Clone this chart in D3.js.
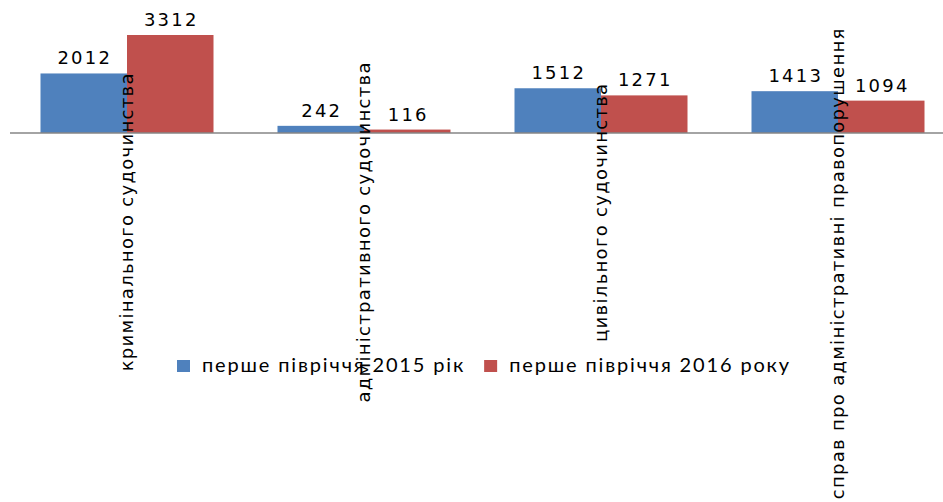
<!DOCTYPE html>
<html>
<head>
<meta charset="utf-8">
<script src="https://cdn.jsdelivr.net/npm/d3@7"></script>
<style>
  body { margin: 0; background: #fff; }
  svg { display: block; }
</style>
</head>
<body>
<svg id="chart" width="943" height="502"></svg>
<script>
const categories = [
  "кримінального судочинства",
  "адміністративного судочинства",
  "цивільного судочинства",
  "справ про адміністративні правопорушення"
];
const seriesNames = ["перше півріччя 2015 рік", "перше півріччя 2016 року"];
const values2015 = [2012, 242, 1512, 1413];
const values2016 = [3312, 116, 1271, 1094];
const colors = ["#4F81BD", "#C0504D"];

const svg = d3.select("#chart");
const width = 943;
const baseY = 133;

const rows = categories.map((c, i) => ({
  category: c,
  values: [
    { key: seriesNames[0], value: values2015[i] },
    { key: seriesNames[1], value: values2016[i] }
  ]
}));

const x0 = d3.scaleBand().domain(categories).range([8.5, 956.5]);
const groupWidth = 173;
const x1 = d3.scaleBand().domain(seriesNames).range([0, groupWidth]);
const y = d3.scaleLinear().domain([0, 3500]).range([baseY, baseY - 3500 * 98 / 3312]);
const color = d3.scaleOrdinal().domain(seriesNames).range(colors);

const groups = svg.selectAll("g.cat")
  .data(rows)
  .join("g")
  .attr("class", "cat")
  .attr("transform", d => `translate(${x0(d.category) + (x0.bandwidth() - groupWidth) / 2},0)`);

groups.selectAll("rect")
  .data(d => d.values)
  .join("rect")
  .attr("x", d => x1(d.key))
  .attr("y", d => y(d.value))
  .attr("width", x1.bandwidth())
  .attr("height", d => y(0) - y(d.value))
  .attr("fill", d => color(d.key));

groups.selectAll("text.val")
  .data(d => d.values)
  .join("text")
  .attr("class", "val")
  .attr("x", d => x1(d.key) + x1.bandwidth() / 2 + 1)
  .attr("y", d => y(d.value) - 9)
  .attr("text-anchor", "middle")
  .attr("font-family", "DejaVu Sans")
  .attr("font-size", "18px")
  .attr("letter-spacing", "2.2px")
  .attr("fill", "#000")
  .text(d => d.value);

// axis line
svg.append("line")
  .attr("x1", 10)
  .attr("x2", width)
  .attr("y1", baseY)
  .attr("y2", baseY)
  .attr("stroke", "#868686")
  .attr("stroke-width", 1.5);

// rotated category labels
categories.forEach(c => {
  const cx = x0(c) + x0.bandwidth() / 2;
  const t = svg.append("text")
    .attr("font-family", "DejaVu Sans")
    .attr("font-size", "18px")
    .attr("letter-spacing", "1.3px")
    .attr("fill", "#000")
    .attr("text-anchor", "start")
    .text(c);
  const len = t.node().getComputedTextLength();
  const bottom = 150 + 0.74 * len;
  t.attr("transform", `translate(${cx + 6},${bottom}) rotate(-90)`);
});

// legend
const legend = svg.append("g");
let lx = 177;
seriesNames.forEach((s, i) => {
  legend.append("rect")
    .attr("x", lx)
    .attr("y", 360)
    .attr("width", 13)
    .attr("height", 12)
    .attr("fill", colors[i]);
  const t = legend.append("text")
    .attr("x", lx + 25)
    .attr("y", 372)
    .attr("font-family", "Lato")
    .attr("font-size", "20px")
    .attr("letter-spacing", "1.85px")
    .attr("fill", "#000")
    .text(s);
  lx += 25 + t.node().getComputedTextLength() + 19;
});
</script>
</body>
</html>
